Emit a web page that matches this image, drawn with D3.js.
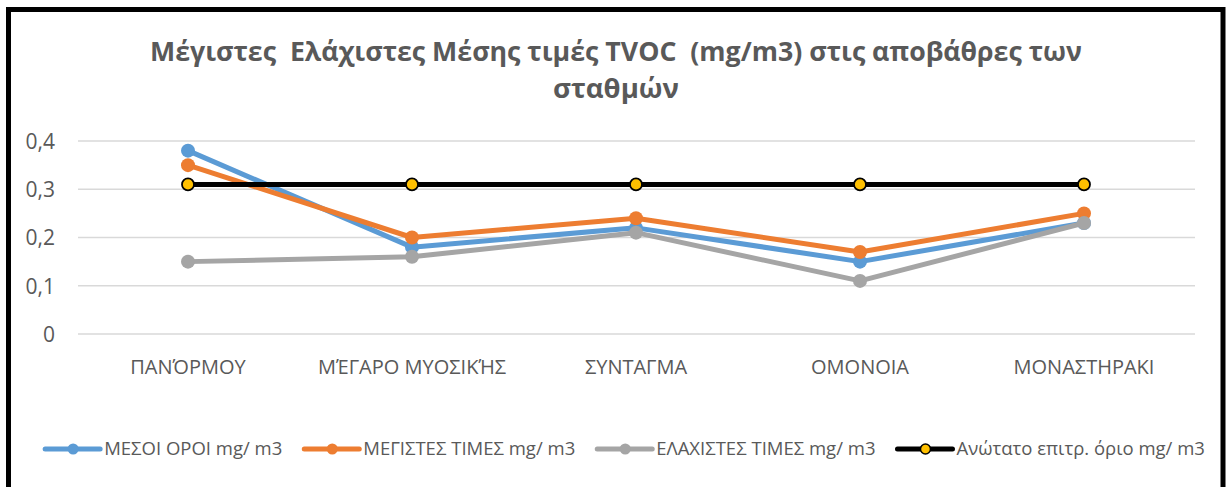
<!DOCTYPE html>
<html>
<head>
<meta charset="utf-8">
<script src="https://cdn.jsdelivr.net/npm/d3@7"></script>
<style>
  html, body { margin: 0; padding: 0; background: #fff; }
  svg { display: block; font-family: "Open Sans", "Noto Sans", sans-serif; }
</style>
</head>
<body>
<svg id="chart" width="1226" height="487"></svg>
<script>
const categories = ["ΠΑΝΌΡΜΟΥ", "ΜΈΓΑΡΟ ΜΥΟΣΙΚΉΣ", "ΣΥΝΤΑΓΜΑ", "ΟΜΟΝΟΙΑ", "ΜΟΝΑΣΤΗΡΑΚΙ"];
const meanValues = [0.38, 0.18, 0.22, 0.15, 0.23];
const maxValues = [0.35, 0.20, 0.24, 0.17, 0.25];
const minValues = [0.15, 0.16, 0.21, 0.11, 0.23];
const limitValues = [0.31, 0.31, 0.31, 0.31, 0.31];
const seriesNames = ["ΜΕΣΟΙ ΟΡΟΙ mg/ m3", "ΜΕΓΙΣΤΕΣ ΤΙΜΕΣ mg/ m3", "ΕΛΑΧΙΣΤΕΣ ΤΙΜΕΣ mg/ m3", "Ανώτατο επιτρ. όριο mg/ m3"];
const yTicks = [0, 0.1, 0.2, 0.3, 0.4];
const yTickLabels = ["0", "0,1", "0,2", "0,3", "0,4"];
const titleLines = ["Μέγιστες  Ελάχιστες Μέσης τιμές TVOC  (mg/m3) στις αποβάθρες των", "σταθμών"];

const series = [
  {name: seriesNames[0], values: meanValues, color: "#5b9bd5", fill: "#5b9bd5", stroke: "none"},
  {name: seriesNames[1], values: maxValues, color: "#ed7d31", fill: "#ed7d31", stroke: "none"},
  {name: seriesNames[2], values: minValues, color: "#a5a5a5", fill: "#a5a5a5", stroke: "none"},
  {name: seriesNames[3], values: limitValues, color: "#000000", fill: "#ffc000", stroke: "#000000"}
];

const svg = d3.select("#chart");
const textColor = "#595959";

// frame
svg.append("path")
  .attr("d", "M8.5,487 L8.5,9.5 L1223,9.5 L1223,487")
  .attr("fill", "none").attr("stroke", "#000").attr("stroke-width", 5);

// title
const title = svg.append("text").attr("fill", textColor).attr("font-weight", "bold")
  .attr("font-size", 27).attr("text-anchor", "middle").style("white-space", "pre");
title.append("tspan").attr("x", 616).attr("y", 61).text(titleLines[0]).attr("textLength", 932).attr("lengthAdjust", "spacingAndGlyphs");
title.append("tspan").attr("x", 616).attr("y", 98).text(titleLines[1]).attr("textLength", 126).attr("lengthAdjust", "spacingAndGlyphs");

const x = d3.scaleBand().domain(categories).range([76, 1196]);
const y = d3.scaleLinear().domain([0, 0.4]).range([334, 141]);

// gridlines
svg.append("g").selectAll("line").data(yTicks).join("line")
  .attr("x1", 78).attr("x2", 1195)
  .attr("y1", d => y(d)).attr("y2", d => y(d))
  .attr("stroke", "#d9d9d9").attr("stroke-width", 1.5);

// y axis
const yAxis = d3.axisLeft(y).tickValues(yTicks).tickFormat((d, i) => yTickLabels[i]).tickSize(0).tickPadding(0);
const gy = svg.append("g").attr("transform", "translate(55,0)").call(yAxis);
gy.select(".domain").remove();
gy.selectAll("text").attr("fill", textColor).attr("font-size", 21).attr("font-family", "Open Sans").attr("dy", "0.35em");

// x axis
const xAxis = d3.axisBottom(x).tickSize(0).tickPadding(0);
const gx = svg.append("g").attr("transform", "translate(0,374)").call(xAxis);
gx.select(".domain").remove();
gx.selectAll("text").attr("fill", textColor).attr("font-size", 20).attr("font-family", "Open Sans").attr("dy", "0");

const cx = c => x(c) + x.bandwidth() / 2;
const line = d3.line().x((d, i) => cx(categories[i])).y(d => y(d));

series.forEach((s, si) => {
  const g = svg.append("g");
  g.append("path").attr("d", line(s.values)).attr("fill", "none")
    .attr("stroke", s.color).attr("stroke-width", 5).attr("stroke-linejoin", "round");
  g.selectAll("circle").data(s.values).join("circle")
    .attr("cx", (d, i) => cx(categories[i])).attr("cy", d => y(d))
    .attr("r", si === 3 ? 6 : 7)
    .attr("fill", s.fill).attr("stroke", s.stroke).attr("stroke-width", si === 3 ? 1.8 : 0);
});

// legend
const legend = svg.append("g");
const legY = 449;
const items = [];
series.forEach(s => {
  const g = legend.append("g");
  g.append("line").attr("x1", 0).attr("x2", 55).attr("y1", 0).attr("y2", 0)
    .attr("stroke", s.color).attr("stroke-width", 5).attr("stroke-linecap", "round");
  g.append("circle").attr("cx", 28).attr("cy", 0).attr("r", s.stroke === "none" ? 5.5 : 5)
    .attr("fill", s.fill).attr("stroke", s.stroke).attr("stroke-width", 1.5);
  const t = g.append("text").attr("x", 59).attr("y", 0).attr("dy", "0.35em")
    .attr("font-size", 18.5).attr("fill", textColor).text(s.name);
  items.push({g, w: 59 + t.node().getComputedTextLength()});
});
const gap = 22;
const total = d3.sum(items, d => d.w) + gap * (items.length - 1);
let lx = 625 - total / 2;
items.forEach(it => {
  it.g.attr("transform", `translate(${lx},${legY})`);
  lx += it.w + gap;
});
</script>
</body>
</html>
